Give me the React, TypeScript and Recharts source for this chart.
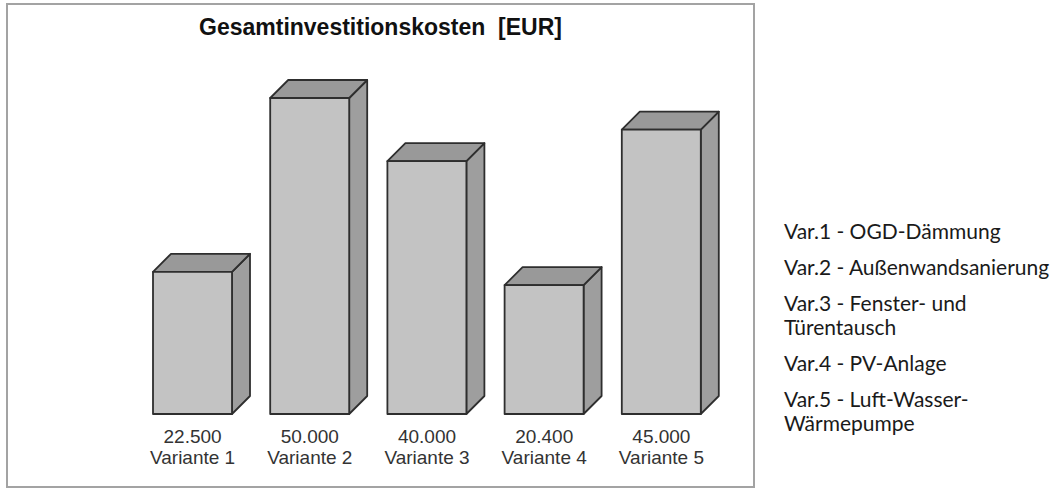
import React from "react";
import { BarChart, Bar, XAxis, YAxis } from "recharts";

const variants = ["Variante 1", "Variante 2", "Variante 3", "Variante 4", "Variante 5"];
const costs = [22500, 50000, 40000, 20400, 45000];
const legendItems = [
  "Var.1 - OGD-Dämmung",
  "Var.2 - Außenwandsanierung",
  "Var.3 - Fenster- und Türentausch",
  "Var.4 - PV-Anlage",
  "Var.5 - Luft-Wasser-Wärmepumpe",
];
const title = "Gesamtinvestitionskosten\u00a0\u00a0[EUR]";

const chartData = variants.map((name, i) => ({ name, value: costs[i] }));

const formatEur = (v: number) => v.toLocaleString("de-DE");

const DEPTH = 18;

const Box3D = (props: any) => {
  const { x, y, width: w, height: h } = props;
  const d = DEPTH;
  const side = `${x + w},${y} ${x + w + d},${y - d} ${x + w + d},${y + h - d} ${x + w},${y + h}`;
  const top = `${x},${y} ${x + d},${y - d} ${x + w + d},${y - d} ${x + w},${y}`;
  return (
    <g stroke="#2e2e2e" strokeWidth={1.8} strokeLinejoin="round">
      <polygon points={side} fill="#9e9e9e" />
      <polygon points={top} fill="#999999" />
      <rect x={x} y={y} width={w} height={h} fill="#c3c3c3" />
    </g>
  );
};

const VariantTick = (props: any) => {
  const { x, y, payload, index } = props;
  const font = "Arial, 'Liberation Sans', sans-serif";
  return (
    <g>
      <text x={x} y={y + 21} textAnchor="middle" fontSize={19} fill="#333" fontFamily={font}>
        {formatEur(costs[index])}
      </text>
      <text x={x} y={y + 42} textAnchor="middle" fontSize={19} fill="#333" fontFamily={font}>
        {payload.value}
      </text>
    </g>
  );
};

export default function App() {
  return (
    <div style={{ position: "absolute", left: 0, top: 0, width: 1063, height: 488, background: "#fff" }}>
      <div
        style={{
          position: "absolute",
          left: 6,
          top: 14,
          width: 749,
          textAlign: "center",
          fontFamily: "Arial, 'Liberation Sans', sans-serif",
          fontWeight: "bold",
          fontSize: 23,
          color: "#111",
        }}
      >
        {title}
      </div>
      <div style={{ position: "absolute", left: 0, top: 0 }}>
        <BarChart width={1063} height={488} data={chartData} margin={{ top: 98, right: 343, bottom: 0, left: 134 }}>
          <XAxis dataKey="name" height={74} axisLine={false} tickLine={false} tick={<VariantTick />} interval={0} />
          <YAxis hide domain={[0, 50000]} width={0} />
          <Bar dataKey="value" barSize={79} shape={<Box3D />} isAnimationActive={false} />
        </BarChart>
      </div>
      <div
        style={{
          position: "absolute",
          left: 6,
          top: 3,
          width: 749,
          height: 485,
          boxSizing: "border-box",
          border: "2px solid #a3a3a3",
          pointerEvents: "none",
        }}
      />
      <div
        style={{
          position: "absolute",
          left: 784,
          top: 219,
          width: 276,
          fontFamily: "Lato, sans-serif",
          fontSize: 21,
          lineHeight: "24px",
          color: "#1a1a1a",
        }}
      >
        {legendItems.map((t) => (
          <div key={t} style={{ marginBottom: 12 }}>
            {t}
          </div>
        ))}
      </div>
    </div>
  );
}
